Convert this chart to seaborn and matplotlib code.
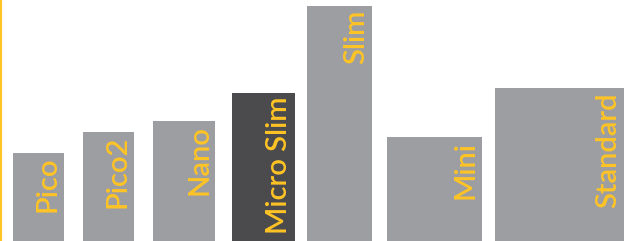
import matplotlib.pyplot as plt
import seaborn as sns

# form factors: height and width of each case (arbitrary units)
names = ["Pico", "Pico2", "Nano", "Micro Slim", "Slim", "Mini", "Standard"]
heights = [88, 109, 120, 148, 235, 104, 153]
widths = [51, 51, 62, 63, 65, 95, 129]
gaps = [13, 19, 19, 17, 12, 15, 13]
highlight = "Micro Slim"

GREY = "#9d9ea2"
DARK = "#4b4b4d"
YELLOW = "#ffc425"

sns.set_theme(style="white")
plt.rcParams["font.family"] = ["Lato", "DejaVu Sans"]

fig = plt.figure(figsize=(6.31, 2.41), dpi=100)
ax = fig.add_axes([0, 0, 1, 1])

palette = [DARK if n == highlight else GREY for n in names]
sns.barplot(x=names, y=heights, hue=names, palette=palette, legend=False,
            saturation=1, ax=ax)

# variable bar widths laid out left to right
left = 0
for patch, w, g, h, name in zip(ax.patches, widths, gaps, heights, names):
    left += g
    patch.set_x(left)
    patch.set_width(w)
    patch.set_linewidth(0)
    ax.text(left + w - 3, h - 4, name, rotation=90, ha="right", va="top",
            color=YELLOW, fontsize=21, fontweight="semibold")
    left += w

ax.set_xlim(0, 631)
ax.set_ylim(0, 241)
ax.set_xticks([])
ax.set_yticks([])
ax.set_xlabel("")
ax.set_ylabel("")
for side in ["top", "right", "bottom"]:
    ax.spines[side].set_visible(False)
ax.spines["left"].set_color(YELLOW)
ax.spines["left"].set_linewidth(3)

fig.savefig("out.png", dpi=100)
